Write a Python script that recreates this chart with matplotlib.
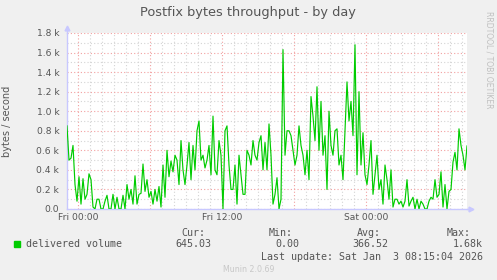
import numpy as np
import matplotlib
matplotlib.use("Agg")
import matplotlib.pyplot as plt
from matplotlib.ticker import MultipleLocator, FuncFormatter
from matplotlib.patches import Rectangle

# delivered volume, in k bytes/s, one value per 10 minutes (Thu 23:05 .. Sat 08:25)
delivered_k = [
    0.85, 0.50, 0.52, 0.65, 0.25, 0.08, 0.33, 0.05, 0.31, 0.10, 0.15, 0.36, 0.30, 0.02,
    0.00, 0.10, 0.10, 0.00, 0.00, 0.08, 0.14, 0.00, 0.00, 0.15, 0.00, 0.12, 0.00, 0.00,
    0.14, 0.00, 0.25, 0.10, 0.20, 0.05, 0.34, 0.05, 0.15, 0.16, 0.46, 0.18, 0.30,
    0.12, 0.18, 0.05, 0.20, 0.08, 0.23, 0.02, 0.45, 0.12, 0.60, 0.33, 0.49, 0.38, 0.55,
    0.50, 0.25, 0.70, 0.40, 0.25, 0.45, 0.68, 0.30, 0.65, 0.40, 0.80, 0.90, 0.50, 0.55,
    0.42, 0.50, 0.65, 0.35, 0.95, 0.40, 0.35, 0.70, 0.55, 0.00, 0.80, 0.85,
    0.45, 0.20, 0.20, 0.45, 0.05, 0.55, 0.35, 0.15, 0.15, 0.60, 0.55, 0.45, 0.70, 0.55,
    0.50, 0.68, 0.75, 0.40, 0.68, 0.40, 0.87, 0.55, 0.05, 0.15, 0.32, 0.00, 0.10, 1.63,
    0.55, 0.80, 0.80, 0.75, 0.60, 0.45, 0.55, 0.85, 0.65, 0.55, 0.35, 0.60,
    0.30, 1.15, 0.95, 0.70, 1.25, 0.60, 1.10, 0.55, 0.75, 0.20, 1.00, 0.65, 0.55, 0.80,
    0.82, 0.45, 0.55, 0.30, 0.80, 1.30, 0.90, 1.10, 0.75, 1.68, 0.35, 1.20, 0.45, 0.78,
    0.35, 0.25, 0.45, 0.70, 0.15, 0.35, 0.55, 0.20, 0.30, 0.05, 0.45, 0.30,
    0.10, 0.40, 0.02, 0.10, 0.10, 0.05, 0.08, 0.02, 0.08, 0.30, 0.03, 0.08, 0.12, 0.00,
    0.10, 0.00, 0.08, 0.05, 0.00, 0.00, 0.08, 0.12, 0.10, 0.30, 0.12, 0.15, 0.38, 0.02,
    0.25, 0.00, 0.18, 0.20, 0.48, 0.58, 0.40, 0.82, 0.65, 0.55, 0.40, 0.645,
]
start_hour = -11 / 12  # hours relative to Fri 00:00
step_hour = 1 / 6

xtick_hours = [0, 12, 24]
xtick_labels = ["Fri 00:00", "Fri 12:00", "Sat 00:00"]

legend_name = "delivered volume"
stat_heads = ["Cur:", "Min:", "Avg:", "Max:"]
stat_values = ["645.03", "0.00", "366.52", "1.68k"]
last_update = "Last update: Sat Jan  3 08:15:04 2026"

W, H = 497, 280
fig = plt.figure(figsize=(W / 100, H / 100), dpi=100, facecolor="#f0f0f0")
ax = fig.add_axes([67 / W, 1 - 209 / H, 400 / W, 176 / H])
ax.set_facecolor("white")

y = np.array(delivered_k) * 1000
t = start_hour + step_hour * np.arange(len(y))
ax.plot(t, y, color="#00cc00", lw=0.85, zorder=3)

ax.set_xlim(-11 / 12, 389 / 12)
ax.set_ylim(0, 1800)

# grid: red major, grey minor, dotted like rrdtool
ax.xaxis.set_major_locator(MultipleLocator(6))
ax.xaxis.set_minor_locator(MultipleLocator(1))
ax.yaxis.set_major_locator(MultipleLocator(200))
ax.yaxis.set_minor_locator(MultipleLocator(100))
ax.grid(which="major", color="#f2a0a0", ls=(0, (1, 2)), lw=0.8)
ax.grid(which="minor", color="#d4d4d4", ls=(0, (1, 2)), lw=0.8)
ax.set_axisbelow(True)

xlab = dict(zip(xtick_hours, xtick_labels))
ax.xaxis.set_major_formatter(FuncFormatter(lambda v, p: xlab.get(int(round(v)), "")))
ax.yaxis.set_major_formatter(
    FuncFormatter(lambda v, p: "0.0" if v == 0 else "%.1f k" % (v / 1000)))
ax.tick_params(which="both", length=0, labelsize=6.6, labelcolor="#555555")
ax.tick_params(axis="y", pad=5.5)
ax.tick_params(axis="x", pad=3)

for s in ["top", "right"]:
    ax.spines[s].set_visible(False)
for s in ["left", "bottom"]:
    ax.spines[s].set_color("#c8c8ff")
    ax.spines[s].set_linewidth(1)
ax.plot([0, 0], [1, 1.03], color="#c8c8ff", lw=1, transform=ax.transAxes, clip_on=False)
ax.plot([1, 1.01], [0, 0], color="#c8c8ff", lw=1, transform=ax.transAxes, clip_on=False)
ax.plot([0], [1.03], marker="^", ms=3.5, color="#c8c8ff", transform=ax.transAxes, clip_on=False)
ax.plot([1.01], [0], marker=">", ms=3.5, color="#c8c8ff", transform=ax.transAxes, clip_on=False)

ax.set_ylabel("bytes / second", fontsize=7, color="#555555", labelpad=6)
ax.yaxis.set_label_coords(-(67 - 12) / 400, 0.5)

def ftext(x, yy, s, **kw):
    fig.text(x / W, 1 - yy / H, s, **kw)

ftext(248, 12.5, "Postfix bytes throughput - by day", ha="center", va="center",
      fontsize=9.3, color="#555555")
ftext(489, 60, "RRDTOOL / TOBI OETIKER", ha="center", va="center", rotation=270,
      fontsize=5.5, color="#c0c0c0")

mono = dict(family="DejaVu Sans Mono", fontsize=7.2, color="#555555", va="center")
fig.patches.append(Rectangle((14 / W, 1 - 247 / H), 6 / W, 6 / H,
                             transform=fig.transFigure, color="#00cc00"))
ftext(26, 244.3, legend_name, ha="left", **mono)
for x, s in zip([181, 269, 357, 447], stat_heads):
    ftext(x, 233.3, s, ha="left", **mono)
for x, s in zip([211, 299, 388, 483], stat_values):
    ftext(x, 244.3, s, ha="right", **mono)
ftext(483, 256.7, last_update, ha="right", **mono)
ftext(249, 269.3, "Munin 2.0.69", ha="center", va="center", fontsize=5.7, color="#c8c8c8")

fig.savefig("out.png", dpi=100, facecolor=fig.get_facecolor())
